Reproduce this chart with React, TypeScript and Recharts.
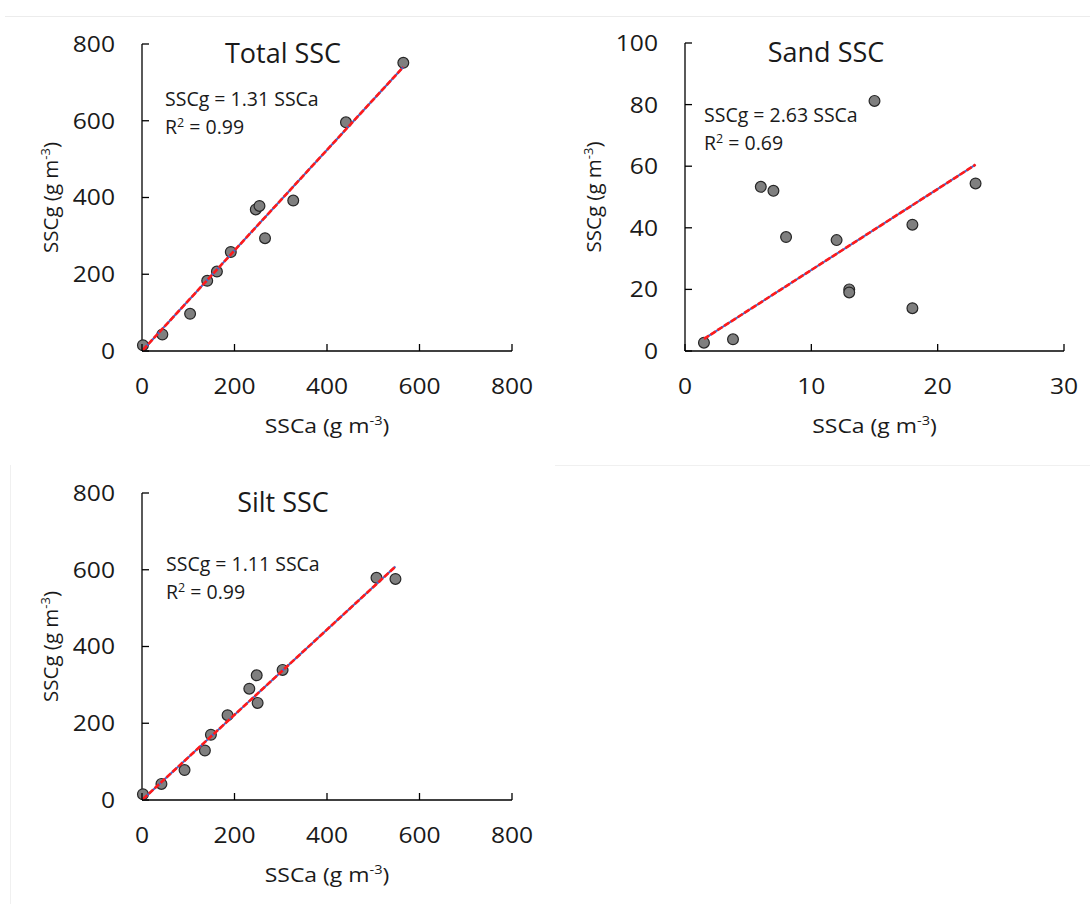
import React from "react";
import { Scatter, ScatterChart, XAxis, YAxis } from "recharts";

// values
const totalSSCa = [2, 44, 104, 141, 162, 192, 246, 254, 266, 327, 441, 565];
const totalSSCg = [15, 43, 97, 183, 207, 258, 369, 378, 294, 392, 596, 751];
const sandSSCa = [1.5, 3.8, 6, 7, 8, 12, 13, 13, 15, 18, 18, 23];
const sandSSCg = [2.7, 3.8, 53.3, 52, 37, 36, 20, 19, 81.2, 41, 13.9, 54.4];
const siltSSCa = [2, 42, 92, 136, 149, 185, 232, 248, 250, 304, 507, 548];
const siltSSCg = [15, 42, 78, 129, 170, 221, 290, 325, 253, 339, 579, 576];

const fitSlopes = [1.31, 2.63, 1.11];
const fitR2 = ["0.99", "0.69", "0.99"];
const panelTitles = ["Total SSC", "Sand SSC", "Silt SSC"];

const ticks800 = [0, 200, 400, 600, 800];
const sandXTicks = [0, 10, 20, 30];
const sandYTicks = [0, 20, 40, 60, 80, 100];

const FONT = "'Open Sans', sans-serif";
const INK = "#1a1a1a";
const RED = "#ff1a1a";
const BLUE = "#4766c9";
const TICK_M = 27;
const Y_W = 60;
const X_H = 60;

const XTick = (props: any) => {
  const { x, y, payload } = props;
  const ay = y - TICK_M;
  return (
    <g>
      <line x1={x} y1={ay} x2={x} y2={ay - 7} stroke="#000" strokeWidth={1.3} />
      <text
        transform={`translate(${x},${y}) scale(1.12,1)`}
        textAnchor="middle"
        dy="0.71em"
        fontSize={22}
        fontFamily={FONT}
        fill={INK}
      >
        {payload.value}
      </text>
    </g>
  );
};

const YTick = (props: any) => {
  const { x, y, payload } = props;
  const ax = x + TICK_M;
  return (
    <g>
      <line x1={ax} y1={y} x2={ax + 7} y2={y} stroke="#000" strokeWidth={1.3} />
      <text
        transform={`translate(${x},${y}) scale(1.12,1)`}
        textAnchor="end"
        dy="0.36em"
        fontSize={22}
        fontFamily={FONT}
        fill={INK}
      >
        {payload.value}
      </text>
    </g>
  );
};

const Dot = (props: any) => (
  <circle cx={props.cx} cy={props.cy} r={5.4} fill="#7f7f7f" stroke="#262626" strokeWidth={1.2} />
);

type Box = { x: number; y: number; w: number; h: number };

type PanelProps = {
  left: number;
  top: number;
  width: number;
  height: number;
  plot: Box;
  xs: number[];
  ys: number[];
  slope: number;
  r2: string;
  title: string;
  xDomain: [number, number];
  yDomain: [number, number];
  xTicks: number[];
  yTicks: number[];
  eqDx: number;
  eqDy: number;
};

function Panel(p: PanelProps) {
  const points = p.xs.map((x, i) => ({ x, y: p.ys[i] }));
  const fit = [Math.min(...p.xs), Math.max(...p.xs)].map((x) => ({ x, y: p.slope * x }));
  const margin = {
    top: p.plot.y,
    left: p.plot.x - Y_W,
    right: p.width - p.plot.x - p.plot.w,
    bottom: p.height - p.plot.y - p.plot.h - X_H,
  };
  const xTitleX = p.plot.x + p.plot.w / 2;
  const xTitleY = p.plot.y + p.plot.h + 82;
  const yTitleX = p.plot.x - 84;
  const yTitleY = p.plot.y + p.plot.h / 2;
  const eqX = p.plot.x + p.eqDx;
  const eqY = p.plot.y + p.eqDy;

  return (
    <div style={{ position: "absolute", left: p.left, top: p.top, width: p.width, height: p.height }}>
      <ScatterChart width={p.width} height={p.height} margin={margin}>
        <XAxis
          type="number"
          dataKey="x"
          domain={p.xDomain}
          ticks={p.xTicks}
          interval={0}
          height={X_H}
          tickSize={0}
          tickMargin={TICK_M}
          tickLine={false}
          axisLine={{ stroke: "#000", strokeWidth: 1.3 }}
          tick={XTick}
        />
        <YAxis
          type="number"
          dataKey="y"
          domain={p.yDomain}
          ticks={p.yTicks}
          interval={0}
          width={Y_W}
          tickSize={0}
          tickMargin={TICK_M}
          tickLine={false}
          axisLine={{ stroke: "#000", strokeWidth: 1.3 }}
          tick={YTick}
        />
        <Scatter data={points} shape={Dot} isAnimationActive={false} />
        <Scatter
          data={fit}
          line={{ stroke: BLUE, strokeWidth: 2 }}
          shape={() => <g />}
          isAnimationActive={false}
        />
        <Scatter
          data={fit}
          line={{ stroke: RED, strokeWidth: 2.6, strokeDasharray: "6 2" }}
          shape={() => <g />}
          isAnimationActive={false}
        />
      </ScatterChart>
      <svg
        width={p.width}
        height={p.height}
        style={{ position: "absolute", left: 0, top: 0, pointerEvents: "none" }}
        fontFamily={FONT}
        fill={INK}
      >
        <text x={p.plot.x + 141} y={p.plot.y + 19} textAnchor="middle" fontSize={27}>
          {p.title}
        </text>
        <text x={eqX} y={eqY} fontSize={19.5}>
          SSCg = {p.slope.toFixed(2)} SSCa
        </text>
        <text x={eqX} y={eqY + 28} fontSize={19.5}>
          R
          <tspan dy={-7} fontSize={12.5}>
            2
          </tspan>
          <tspan dy={7}> = {p.r2}</tspan>
        </text>
        <text
          transform={`translate(${xTitleX},${xTitleY}) scale(1.12,1)`}
          textAnchor="middle"
          fontSize={20.5}
        >
          SSCa (g m
          <tspan dy={-8} fontSize={13}>
            -3
          </tspan>
          <tspan dy={8}>)</tspan>
        </text>
        <text
          x={yTitleX}
          y={yTitleY}
          transform={`rotate(-90 ${yTitleX} ${yTitleY})`}
          textAnchor="middle"
          fontSize={20.5}
        >
          SSCg (g m
          <tspan dy={-8} fontSize={13}>
            -3
          </tspan>
          <tspan dy={8}>)</tspan>
        </text>
      </svg>
    </div>
  );
}

export default function App() {
  return (
    <div style={{ position: "absolute", left: 0, top: 0, width: 1090, height: 904, background: "#fff" }}>
      <div style={{ position: "absolute", left: 5, top: 16, width: 1085, height: 1, background: "#ececec" }} />
      <div style={{ position: "absolute", left: 555, top: 465, width: 535, height: 1, background: "#f0f0f0" }} />
      <div style={{ position: "absolute", left: 10, top: 465, width: 1, height: 439, background: "#f0f0f0" }} />
      <Panel
        left={0}
        top={0}
        width={540}
        height={450}
        plot={{ x: 142, y: 44, w: 370, h: 307 }}
        xs={totalSSCa}
        ys={totalSSCg}
        slope={fitSlopes[0]}
        r2={fitR2[0]}
        title={panelTitles[0]}
        xDomain={[0, 800]}
        yDomain={[0, 800]}
        xTicks={ticks800}
        yTicks={ticks800}
        eqDx={23}
        eqDy={62}
      />
      <Panel
        left={540}
        top={0}
        width={550}
        height={450}
        plot={{ x: 145, y: 43, w: 379, h: 308 }}
        xs={sandSSCa}
        ys={sandSSCg}
        slope={fitSlopes[1]}
        r2={fitR2[1]}
        title={panelTitles[1]}
        xDomain={[0, 30]}
        yDomain={[0, 100]}
        xTicks={sandXTicks}
        yTicks={sandYTicks}
        eqDx={19}
        eqDy={79}
      />
      <Panel
        left={0}
        top={450}
        width={540}
        height={450}
        plot={{ x: 142, y: 43, w: 370, h: 307 }}
        xs={siltSSCa}
        ys={siltSSCg}
        slope={fitSlopes[2]}
        r2={fitR2[2]}
        title={panelTitles[2]}
        xDomain={[0, 800]}
        yDomain={[0, 800]}
        xTicks={ticks800}
        yTicks={ticks800}
        eqDx={24}
        eqDy={78}
      />
    </div>
  );
}
